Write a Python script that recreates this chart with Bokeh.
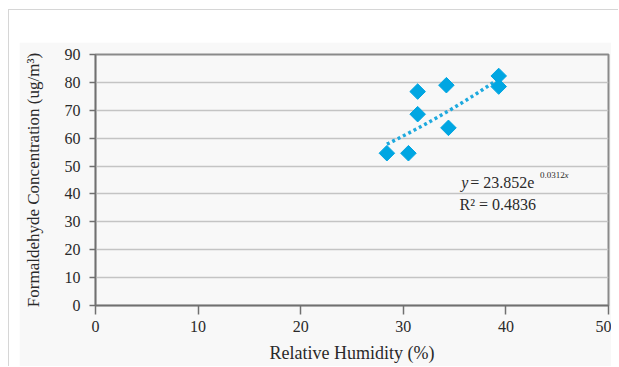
import numpy as np
from bokeh.plotting import figure
from bokeh.models import ColumnDataSource, Label, SingleIntervalTicker
from bokeh.layouts import column
from bokeh.embed import file_html
from bokeh.resources import INLINE

# ---- data ----
humidity = [28.4, 30.5, 31.4, 31.4, 34.2, 34.4, 39.3, 39.3]
formaldehyde = [54.6, 54.6, 76.7, 68.6, 79.0, 63.7, 82.3, 78.5]
fit_a = 23.852
fit_b = 0.0312
r_squared = 0.4836

FONT = "Liberation Serif"
BLUE = "#00a6e2"
PANEL = "#f8f8f8"

p = figure(width=592, height=324, x_range=(0, 50), y_range=(0, 90),
           output_backend="svg", toolbar_location=None,
           min_border_left=76, min_border_right=3, min_border_top=12, min_border_bottom=61,
           border_fill_color=PANEL, background_fill_color=PANEL,
           outline_line_color="#8a8a8a", outline_line_width=2)

# trendline (Excel exponential fit shown on chart)
tx = np.linspace(min(humidity), max(humidity), 60)
ty = fit_a * np.exp(fit_b * tx)
p.line(tx, ty, line_color="#1ea9de", line_width=3.5, line_dash="3 3")

src = ColumnDataSource(dict(x=humidity, y=formaldehyde))
p.scatter("x", "y", source=src, marker="square", size=11, angle=np.pi / 4,
          fill_color=BLUE, line_color=BLUE)

# axes
p.xaxis.ticker = SingleIntervalTicker(interval=10)
p.yaxis.ticker = SingleIntervalTicker(interval=10)
p.xaxis.minor_tick_line_color = None
p.yaxis.minor_tick_line_color = None
for ax in (p.xaxis[0], p.yaxis[0]):
    ax.axis_line_color = "#707070"
    ax.axis_line_width = 1.5
    ax.major_tick_line_color = "#707070"
    ax.major_tick_line_width = 1.5
    ax.major_tick_in = 0
    ax.major_label_text_font = FONT
    ax.major_label_text_font_size = "16px"
    ax.major_label_text_color = "#2a2a2a"
    ax.axis_label_text_font = FONT
    ax.axis_label_text_font_style = "normal"
    ax.axis_label_text_color = "#2a2a2a"

p.xaxis.axis_label_text_font_size = "18px"
p.yaxis.axis_label_text_font_size = "17px"

p.xaxis.major_tick_out = 9
p.xaxis.major_label_standoff = 6
p.xaxis.axis_label = "Relative Humidity (%)"
p.xaxis.axis_label_standoff = 8

p.yaxis.major_tick_out = 6
p.yaxis.major_label_standoff = 9
p.yaxis.axis_label = "Formaldehyde Concentration (ug/m\u00b3)"
p.yaxis.axis_label_standoff = 19

p.xgrid.grid_line_color = None
p.ygrid.grid_line_color = "#c4c4c4"
p.ygrid.grid_line_width = 1.5

# equation annotation
common = dict(text_font=FONT, text_color="#2a2a2a", text_baseline="middle", text_align="left")
p.add_layout(Label(x=35.64, y=44.1, text="y", text_font_size="16px",
                   text_font_style="italic", **common))
p.add_layout(Label(x=36.52, y=44.1, text="= 23.852e", text_font_size="16px", **common))
p.add_layout(Label(x=43.33, y=46.8, text=f"{fit_b}", text_font_size="9px", **common))
p.add_layout(Label(x=45.7, y=46.8, text="x", text_font_size="9px",
                   text_font_style="italic", **common))
p.add_layout(Label(x=35.48, y=36.3, text=f"R\u00b2 = {r_squared}", text_font_size="16px", **common))

p.margin = (32, 0, 0, 10)
page = column(p, width=610, margin=(9, 0, 0, 8),
              styles={"border-top": "1.5px solid #d6d6d6",
                      "border-left": "1.5px solid #d6d6d6"})

open("out.html", "w").write(file_html(page, INLINE))
